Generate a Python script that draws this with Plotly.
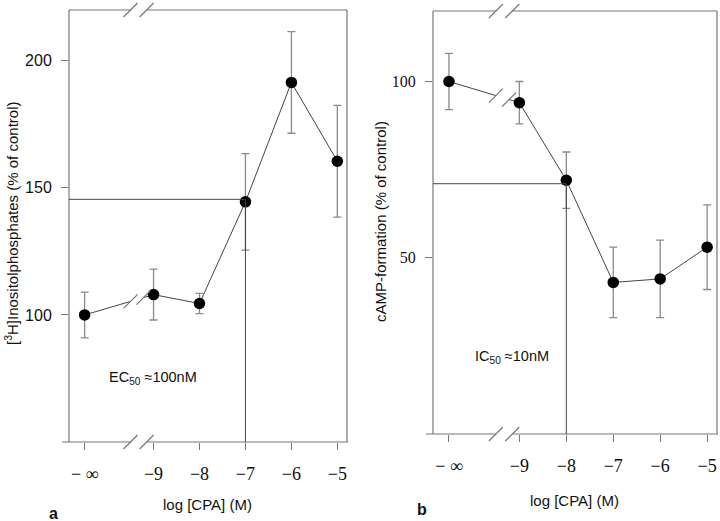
import plotly.graph_objects as go

# ---------------- data ----------------
X_POS = [-10.5, -9, -8, -7, -6, -5]
X_LABELS = ["\u2212 \u221e", "\u22129", "\u22128", "\u22127", "\u22126", "\u22125"]

IP_MEAN = [100, 108, 104.5, 144.5, 191.5, 160.5]
IP_ERR = [9, 10, 4, 19, 20, 22]
CAMP_MEAN = [100, 94, 72, 43, 44, 53]
CAMP_ERR = [8, 6, 8, 10, 11, 12]

IP_TICKS = [100, 150, 200]
CAMP_TICKS = [50, 100]

EC50_X = [-7]
EC50_Y = [145.5]
IC50_X = [-8]
IC50_Y = [71]

# ---------------- layout helpers ----------------
W, H = 720, 521
XR = [-10.84, -4.79]
AXIS_BREAK = [-9.5, -9.15]
LINE_BREAK = [-9.5, -9.22]
AX_COL = "#777777"
LINE_COL = "#444444"
ERR_COL = "#8a8a8a"


def px(x):
    return x / W


def py(y):
    return 1 - y / H


def frac(v):
    return (v - XR[0]) / (XR[1] - XR[0])


def interp(xb, x0, y0, x1, y1):
    return y0 + (y1 - y0) * (xb - x0) / (x1 - x0)


fig = go.Figure()
shapes = []
annotations = []

panels = [
    dict(xa="x", ya="y", mean=IP_MEAN, err=IP_ERR, ref_x=EC50_X[0], ref_y=EC50_Y[0], ymin=50),
    dict(xa="x2", ya="y2", mean=CAMP_MEAN, err=CAMP_ERR, ref_x=IC50_X[0], ref_y=IC50_Y[0], ymin=0),
]

for p in panels:
    xa, ya, mean, err = p["xa"], p["ya"], p["mean"], p["err"]
    yb0 = interp(LINE_BREAK[0], X_POS[0], mean[0], X_POS[1], mean[1])
    yb1 = interp(LINE_BREAK[1], X_POS[0], mean[0], X_POS[1], mean[1])
    # connecting line with break
    fig.add_trace(go.Scatter(x=[X_POS[0], LINE_BREAK[0]], y=[mean[0], yb0], mode="lines",
                             line=dict(color=LINE_COL, width=1), xaxis=xa, yaxis=ya,
                             showlegend=False, hoverinfo="skip"))
    fig.add_trace(go.Scatter(x=[LINE_BREAK[1]] + X_POS[1:], y=[yb1] + mean[1:], mode="lines",
                             line=dict(color=LINE_COL, width=1), xaxis=xa, yaxis=ya,
                             showlegend=False, hoverinfo="skip"))
    # markers with error bars
    fig.add_trace(go.Scatter(x=X_POS, y=mean, mode="markers",
                             marker=dict(color="black", size=11.5),
                             error_y=dict(type="data", array=err, color=ERR_COL, thickness=1.3, width=4),
                             xaxis=xa, yaxis=ya, showlegend=False))
    xd = xa + " domain"
    yd = ya + " domain"
    # box with breaks
    box = dict(type="line", line=dict(color=AX_COL, width=1.2))
    shapes.append(dict(box, xref=xd, yref=yd, x0=0, x1=0, y0=0, y1=1))
    shapes.append(dict(box, xref=xd, yref=yd, x0=1, x1=1, y0=0, y1=1))
    shapes.append(dict(box, xref=xd, yref=yd, x0=-0.025, x1=frac(AXIS_BREAK[0]), y0=0, y1=0))
    shapes.append(dict(box, xref=xd, yref=yd, x0=frac(AXIS_BREAK[1]), x1=1.004, y0=0, y1=0))
    shapes.append(dict(box, xref=xd, yref=yd, x0=0, x1=frac(AXIS_BREAK[0]), y0=1, y1=1))
    shapes.append(dict(box, xref=xd, yref=yd, x0=frac(AXIS_BREAK[1]), x1=1, y0=1, y1=1))
    # break slashes
    sl = dict(type="line", line=dict(color=AX_COL, width=1.2), xsizemode="pixel", ysizemode="pixel",
              x0=-7, x1=7, y0=-7, y1=7)
    for xb in AXIS_BREAK:
        shapes.append(dict(sl, xref=xa, yref=yd, xanchor=xb, yanchor=0))
        shapes.append(dict(sl, xref=xa, yref=yd, xanchor=xb, yanchor=1))
    shapes.append(dict(sl, xref=xa, yref=ya, xanchor=LINE_BREAK[0], yanchor=yb0))
    shapes.append(dict(sl, xref=xa, yref=ya, xanchor=LINE_BREAK[1], yanchor=yb1))
    # EC50 / IC50 guide lines
    gl = dict(type="line", line=dict(color=LINE_COL, width=1))
    shapes.append(dict(gl, xref=xd, yref=ya, x0=0, x1=frac(p["ref_x"]), y0=p["ref_y"], y1=p["ref_y"]))
    shapes.append(dict(gl, xref=xa, yref=ya, x0=p["ref_x"], x1=p["ref_x"],
                       y0=p["ymin"], y1=p["ref_y"]))

xcommon = dict(range=XR, showline=False, showgrid=False, zeroline=False, ticks="outside",
               ticklen=7, tickcolor=AX_COL, tickwidth=1.2, tickvals=X_POS, ticktext=X_LABELS,
               tickfont=dict(family="Liberation Serif", size=18, color="#111"),
               ticklabelstandoff=8, fixedrange=True)
ycommon = dict(showline=False, showgrid=False, zeroline=False, ticks="outside", ticklen=7,
               tickcolor=AX_COL, tickwidth=1.2, ticklabelstandoff=6)

sans = "Liberation Sans, Arial, sans-serif"
serif = "Liberation Serif, Times New Roman, serif"

annotations += [
    dict(text="log [CPA] (M)", x=px(208), y=py(504), xref="paper", yref="paper", showarrow=False,
         font=dict(family=sans, size=15, color="#111"), xanchor="center", yanchor="middle"),
    dict(text="log [CPA] (M)", x=px(574), y=py(500), xref="paper", yref="paper", showarrow=False,
         font=dict(family=sans, size=15, color="#111"), xanchor="center", yanchor="middle"),
    dict(text="[<sup>3</sup>H]Inositolphosphates (% of control)", x=px(12), y=py(224), xref="paper",
         yref="paper", showarrow=False, textangle=-90,
         font=dict(family=sans, size=15, color="#111"), xanchor="center", yanchor="middle"),
    dict(text="cAMP-formation (% of control)", x=px(380), y=py(222), xref="paper",
         yref="paper", showarrow=False, textangle=-90,
         font=dict(family=sans, size=15, color="#111"), xanchor="center", yanchor="middle"),
    dict(text="EC<sub>50</sub> \u2248100nM", x=px(107), y=py(378), xref="paper", yref="paper",
         showarrow=False, font=dict(family=sans, size=14.5, color="#111"), xanchor="left", yanchor="middle"),
    dict(text="IC<sub>50</sub> \u224810nM", x=px(473), y=py(357), xref="paper", yref="paper",
         showarrow=False, font=dict(family=sans, size=14.5, color="#111"), xanchor="left", yanchor="middle"),
    dict(text="<b>a</b>", x=px(53), y=py(513), xref="paper", yref="paper", showarrow=False,
         font=dict(family=sans, size=16, color="#111"), xanchor="center", yanchor="middle"),
    dict(text="<b>b</b>", x=px(422), y=py(509), xref="paper", yref="paper", showarrow=False,
         font=dict(family=sans, size=16, color="#111"), xanchor="center", yanchor="middle"),
]

fig.update_layout(
    width=W, height=H, margin=dict(l=0, r=0, t=0, b=0),
    paper_bgcolor="white", plot_bgcolor="white", showlegend=False,
    xaxis=dict(xcommon, domain=[px(69), px(347)], anchor="y"),
    yaxis=dict(ycommon, domain=[py(442), py(10)], range=[50, 220], tickvals=IP_TICKS,
               tickfont=dict(family=sans, size=16, color="#111"), anchor="x"),
    xaxis2=dict(xcommon, domain=[px(433), px(717)], anchor="y2"),
    yaxis2=dict(ycommon, domain=[py(434), py(11)], range=[0, 120], tickvals=CAMP_TICKS,
                tickfont=dict(family=serif, size=16, color="#111"), anchor="x2"),
    shapes=shapes, annotations=annotations,
)

fig.write_html("out.html", config={"displayModeBar": False},
               post_script="document.body.style.margin='0';document.body.style.overflow='hidden';")
